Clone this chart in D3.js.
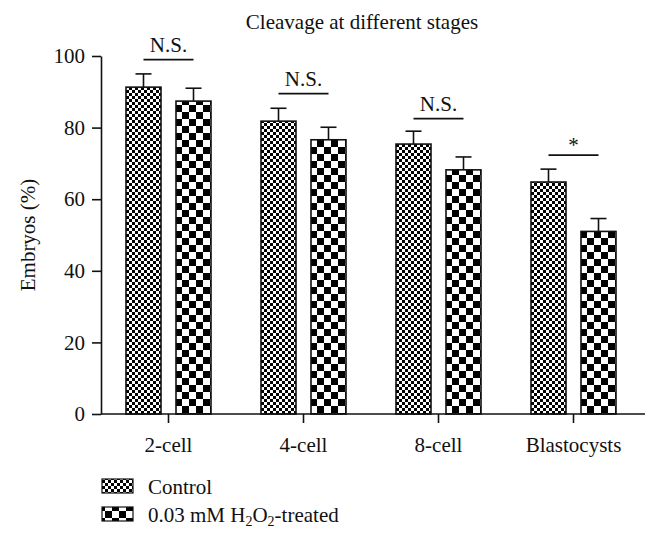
<!DOCTYPE html>
<html>
<head>
<meta charset="utf-8">
<script src="https://cdn.jsdelivr.net/npm/d3@7"></script>
<style>
  body { margin: 0; background: #fff; }
  svg text { font-family: "Liberation Serif", "Times New Roman", serif; fill: #111; }
</style>
</head>
<body>
<svg id="chart" width="656" height="545"></svg>
<script>
// ---- data ----
const categories = ["2-cell", "4-cell", "8-cell", "Blastocysts"];
const seriesNames = ["Control", "0.03 mM H2O2-treated"];
const controlValues = [91.3, 81.8, 75.4, 64.8];
const controlErrors = [3.7, 3.6, 3.6, 3.6];
const treatedValues = [87.4, 76.6, 68.2, 51.0];
const treatedErrors = [3.6, 3.5, 3.6, 3.6];
const significance = ["N.S.", "N.S.", "N.S.", "*"];
const sigLevels = [99.0, 89.5, 82.5, 72.3];
const yTicks = [0, 20, 40, 60, 80, 100];
const title = "Cleavage at different stages";
const yLabel = "Embryos (%)";

const FS = 21;

const series = [
  { key: "control", values: controlValues, errors: controlErrors, pattern: "url(#patFine)" },
  { key: "treated", values: treatedValues, errors: treatedErrors, pattern: "url(#patCoarse)" }
];

const svg = d3.select("#chart");
const defs = svg.append("defs");

function checker(id, cell) {
  const p = defs.append("pattern").attr("id", id)
    .attr("patternUnits", "userSpaceOnUse")
    .attr("width", cell * 2).attr("height", cell * 2);
  p.append("rect").attr("width", cell * 2).attr("height", cell * 2).attr("fill", "#fff");
  p.append("rect").attr("x", 0).attr("y", 0).attr("width", cell).attr("height", cell).attr("fill", "#000");
  p.append("rect").attr("x", cell).attr("y", cell).attr("width", cell).attr("height", cell).attr("fill", "#000");
}
checker("patFine", 3);
checker("patCoarse", 7);

const x0 = d3.scaleBand().domain(categories).range([101, 641])
  .paddingInner(50 / 135).paddingOuter(25 / 135);
const x1 = d3.scaleBand().domain(series.map(s => s.key)).range([0, x0.bandwidth()])
  .paddingInner(0.3);
const y = d3.scaleLinear().domain([0, 100]).range([414, 56]);

// title
svg.append("text").attr("x", 362).attr("y", 29).attr("text-anchor", "middle")
  .attr("font-size", FS).text(title);

// y axis
const yAxis = svg.append("g").attr("transform", "translate(101,0)")
  .call(d3.axisLeft(y).tickValues(yTicks).tickSize(9).tickPadding(7).tickSizeOuter(0));
yAxis.attr("font-family", null).attr("font-size", null);
yAxis.select(".domain").attr("stroke", "#111").attr("stroke-width", 1.6);
yAxis.selectAll(".tick line").attr("stroke", "#111").attr("stroke-width", 1.6);
yAxis.selectAll(".tick text").attr("font-size", FS).attr("fill", "#111");

svg.append("text")
  .attr("transform", "translate(35," + ((y(0) + y(100)) / 2) + ") rotate(-90)")
  .attr("text-anchor", "middle").attr("font-size", FS).text(yLabel);

// bars
const groups = svg.append("g").selectAll("g").data(categories).join("g")
  .attr("transform", d => "translate(" + x0(d) + ",0)");

series.forEach(s => {
  groups.append("rect")
    .attr("x", x1(s.key))
    .attr("y", (d, i) => y(s.values[i]))
    .attr("width", x1.bandwidth())
    .attr("height", (d, i) => y(0) - y(s.values[i]))
    .attr("fill", s.pattern)
    .attr("stroke", "#111").attr("stroke-width", 1.6);
  groups.append("line")
    .attr("x1", x1(s.key) + x1.bandwidth() / 2).attr("x2", x1(s.key) + x1.bandwidth() / 2)
    .attr("y1", (d, i) => y(s.values[i]))
    .attr("y2", (d, i) => y(s.values[i] + s.errors[i]))
    .attr("stroke", "#111").attr("stroke-width", 1.6);
  groups.append("line")
    .attr("x1", x1(s.key) + x1.bandwidth() / 2 - 8).attr("x2", x1(s.key) + x1.bandwidth() / 2 + 8)
    .attr("y1", (d, i) => y(s.values[i] + s.errors[i]))
    .attr("y2", (d, i) => y(s.values[i] + s.errors[i]))
    .attr("stroke", "#111").attr("stroke-width", 1.6);
});

// significance
groups.append("line")
  .attr("x1", x1("control") + x1.bandwidth() / 2)
  .attr("x2", x1("treated") + x1.bandwidth() / 2)
  .attr("y1", (d, i) => y(sigLevels[i])).attr("y2", (d, i) => y(sigLevels[i]))
  .attr("stroke", "#111").attr("stroke-width", 1.6);
groups.append("text")
  .attr("x", x0.bandwidth() / 2)
  .attr("y", (d, i) => y(sigLevels[i]) - (significance[i] === "*" ? 3 : 8))
  .attr("text-anchor", "middle").attr("font-size", FS)
  .text((d, i) => significance[i]);

// x axis
const xAxis = svg.append("g").attr("transform", "translate(0,414)")
  .call(d3.axisBottom(x0).tickSize(9).tickPadding(14).tickSizeOuter(0));
xAxis.attr("font-family", null).attr("font-size", null);
xAxis.select(".domain").attr("d", "M101,0H645").attr("stroke", "#111").attr("stroke-width", 1.6);
xAxis.selectAll(".tick line").attr("stroke", "#111").attr("stroke-width", 1.6);
xAxis.selectAll(".tick text").attr("font-size", FS).attr("fill", "#111");

// legend
const legend = svg.append("g");
series.forEach((s, i) => {
  const ly = 479 + i * 28;
  legend.append("rect").attr("x", 102).attr("y", ly).attr("width", 31).attr("height", 14)
    .attr("fill", s.pattern).attr("stroke", "#111").attr("stroke-width", 1.2);
});
legend.append("text").attr("x", 148).attr("y", 494).attr("font-size", FS).text(seriesNames[0]);
const t2 = legend.append("text").attr("x", 148).attr("y", 522).attr("font-size", FS);
t2.append("tspan").text("0.03 mM H");
t2.append("tspan").attr("font-size", 14).attr("dy", 4).text("2");
t2.append("tspan").attr("dy", -4).text("O");
t2.append("tspan").attr("font-size", 14).attr("dy", 4).text("2");
t2.append("tspan").attr("dy", -4).text("-treated");
</script>
</body>
</html>
